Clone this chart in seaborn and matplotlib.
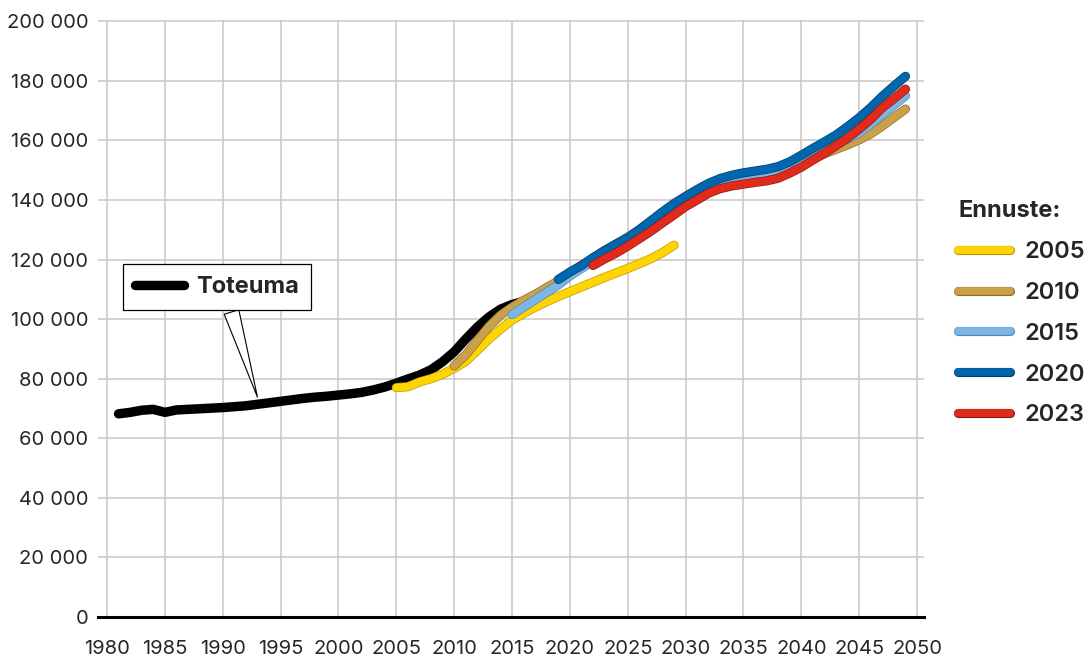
import matplotlib
matplotlib.use('Agg')
import matplotlib.pyplot as plt
import matplotlib.patheffects as pe
from matplotlib.ticker import FuncFormatter
import seaborn as sns

# Toteuma (actual)
actual_years = list(range(1981, 2017))
actual_vals = [68200, 68700, 69400, 69700, 68700, 69500, 69700, 69900, 70100, 70300,
               70600, 70900, 71400, 71900, 72400, 72900, 73400, 73800, 74100, 74500,
               74900, 75400, 76200, 77200, 78500, 79900, 81200, 83000, 85700, 89000,
               93300, 97300, 100700, 103300, 104900, 105900]

# Ennuste 2005
f2005_years = list(range(2005, 2030))
f2005_vals = [77000, 77300, 78900, 80000, 81500, 83500, 85800, 89500, 93300, 96600,
              99700, 101900, 104000, 105900, 107600, 109200, 110800, 112400, 114000, 115500,
              117000, 118600, 120300, 122300, 124800]

# Ennuste 2010
f2010_years = list(range(2010, 2050))
f2010_vals = [84300, 88000, 92800, 97500, 101300, 104000, 106300, 108300, 110600, 112800,
              115500, 118000, 120500, 123000, 125200, 127500, 130000, 132800, 135500, 138000,
              140300, 142500, 144300, 145700, 146700, 147400, 148000, 148700, 149800, 151300,
              152600, 153800, 155500, 157000, 158500, 160200, 162200, 164800, 167700, 170500]

# Ennuste 2015
f2015_years = list(range(2015, 2050))
f2015_vals = [101500, 104000, 106500, 109000, 111500, 114500, 117000, 119500, 122000, 124500,
              127000, 129800, 132600, 135300, 137800, 139800, 142000, 144000, 145500, 146600,
              147300, 147900, 148500, 149300, 150900, 152800, 154800, 156900, 158700, 160500,
              162500, 165500, 168700, 171800, 175000]

# Ennuste 2020
f2020_years = list(range(2019, 2050))
f2020_vals = [113300, 115800, 118000, 120600, 123000, 125200, 127300, 130000, 133000, 136000,
              138800, 141200, 143500, 145600, 147200, 148300, 149100, 149700, 150300, 151200,
              152800, 155000, 157300, 159500, 161800, 164600, 167600, 171000, 174800, 178200,
              181500]

# Ennuste 2023
f2023_years = list(range(2022, 2050))
f2023_vals = [118000, 120200, 122200, 124500, 127000, 129500, 132300, 135000, 137800, 140000,
              142300, 143800, 144700, 145300, 145900, 146400, 147300, 149000, 151000, 153400,
              155700, 158200, 160800, 163800, 167100, 171000, 174000, 177200]

forecast_labels = ['2005', '2010', '2015', '2020', '2023']
forecast_colors = ['#FFD400', '#C9A14A', '#7DB6E4', '#0066AE', '#DF2A1C']
forecast_edges = ['#B89A00', '#8C6E2C', '#4F88B8', '#003E6E', '#8E1A12']

sns.set_style('white')
plt.rcParams['font.family'] = ['Inter', 'DejaVu Sans']

fig = plt.figure(figsize=(10.88, 6.57), dpi=100)
ax = fig.add_axes([98 / 1088, 40 / 657, 826 / 1088, 597 / 657])

sns.lineplot(x=actual_years, y=actual_vals, ax=ax, color='black', lw=6.8,
             solid_capstyle='round', sort=False, estimator=None)

series = [(f2005_years, f2005_vals), (f2010_years, f2010_vals), (f2015_years, f2015_vals),
          (f2020_years, f2020_vals), (f2023_years, f2023_vals)]
for (yrs, vals), c, ec in zip(series, forecast_colors, forecast_edges):
    sns.lineplot(x=yrs, y=vals, ax=ax, color=c, lw=5.6, solid_capstyle='round',
                 sort=False, estimator=None,
                 path_effects=[pe.Stroke(linewidth=6.6, foreground=ec), pe.Normal()])

ax.set_xlim(1979.22, 2050.6)
ax.set_ylim(0, 200400)
ax.set_xticks(range(1980, 2051, 5))
ax.set_yticks(range(0, 200001, 20000))
ax.yaxis.set_major_formatter(FuncFormatter(lambda v, p: f'{v:,.0f}'.replace(',', ' ')))
ax.grid(True, color='#c8c8c8', lw=1.1)
ax.set_axisbelow(True)
ax.tick_params(axis='x', length=6, width=1, color='#c8c8c8', pad=10.5, labelsize=14.5)
ax.tick_params(axis='y', length=0, pad=7, labelsize=14.5)
for s in ['top', 'right', 'left']:
    ax.spines[s].set_visible(False)
ax.spines['bottom'].set_linewidth(2.2)
ax.spines['bottom'].set_color('black')
ax.set_xlabel('')
ax.set_ylabel('')

lines = ax.get_lines()

leg1 = ax.legend([lines[0]], ['Toteuma'], loc='upper left',
                 bbox_to_anchor=(123 / 1088, 1 - 264 / 657), bbox_transform=fig.transFigure,
                 borderaxespad=0, borderpad=0.5, handlelength=2.1, handletextpad=0.5,
                 prop={'size': 17, 'weight': 'bold'}, frameon=True, fancybox=False,
                 framealpha=1, edgecolor='black')
leg1.get_frame().set_linewidth(0.9)
ax.add_artist(leg1)

ax.annotate('', xy=(1993.0, 73800), xycoords='data',
            xytext=(231.5 / 1088, 1 - 312 / 657), textcoords='figure fraction',
            arrowprops=dict(arrowstyle='wedge,tail_width=1.1,shrink_factor=0.5',
                            fc='white', ec='black', lw=0.8, shrinkA=0, shrinkB=0,
                            mutation_scale=10))

leg2 = ax.legend(lines[1:6], forecast_labels, loc='upper left',
                 bbox_to_anchor=(958 / 1088, 1 - 200 / 657), bbox_transform=fig.transFigure,
                 borderaxespad=0, borderpad=0, handlelength=2.2, handletextpad=0.6,
                 labelspacing=0.8, frameon=False,
                 prop={'size': 17, 'weight': 'semibold'},
                 title='Ennuste:', title_fontproperties={'size': 17, 'weight': 'bold'},
                 alignment='left')

fig.savefig('out.png', dpi=100)
